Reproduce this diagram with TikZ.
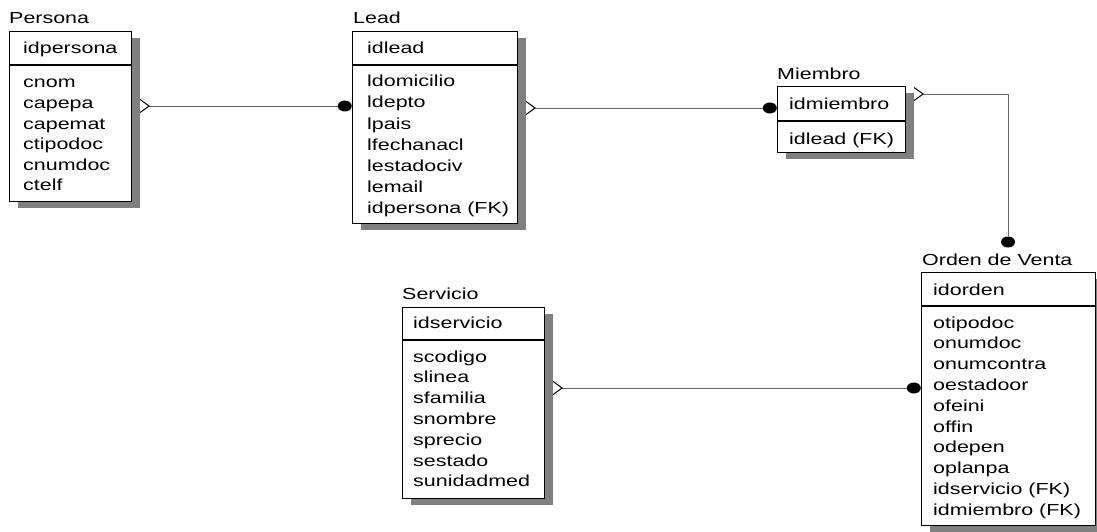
\documentclass[tikz,border=0pt]{standalone}
\usepackage{fontspec}
\setmainfont{Liberation Sans}[FakeStretch=1.34]
\usetikzlibrary{shapes.geometric,shadows,calc}
\newcommand\erfont{\fontsize{16}{19}\selectfont}
\tikzset{
  entity/.style={draw=black, line width=1.1pt, fill=white, anchor=north west,
    inner sep=0pt, general shadow={fill=black!50, shadow xshift=8pt, shadow yshift=-6pt}},
  sepline/.style={draw=black, line width=1.1pt},
  attr/.style={anchor=base west, inner sep=0pt, font=\erfont},
  enttitle/.style={anchor=base west, inner sep=0pt, font=\erfont},
  rel/.style={draw=black!60, line width=0.8pt},
  crow/.style={draw=black, line width=1pt},
  dot/.style={ellipse, fill=black, draw=none, inner sep=0pt,
    minimum width=14pt, minimum height=11pt},
}
% open "many" end drawn at a coordinate, opening towards the table
\newcommand\manyend[1]{\draw[crow] ([yshift=6.5pt]#1) -- ([xshift=9pt]#1) -- ([yshift=-6.5pt]#1);}
\begin{document}
\begin{tikzpicture}[x=1pt, y=-1pt]
\useasboundingbox (0,0) rectangle (1097,532);

% ---------- Persona ----------
\node[enttitle] (persona-t) at (9,24) {Persona};
\node[entity, minimum width=122pt, minimum height=170pt] (persona) at (9,31) {};
\draw[sepline] (persona.west |- 0,65) -- (persona.east |- 0,65);
\node[attr] (persona-k) at (23,54) {idpersona};
\foreach \a [count=\i from 0] in {cnom,capepa,capemat,ctipodoc,cnumdoc,ctelf}
  \node[attr] (persona-\i) at (23,{88+20.5*\i}) {\a};

% ---------- Lead ----------
\node[enttitle] (lead-t) at (353,24) {Lead};
\node[entity, minimum width=165pt, minimum height=192pt] (lead) at (352,31) {};
\draw[sepline] (lead.west |- 0,65) -- (lead.east |- 0,65);
\node[attr] (lead-k) at (367,54) {idlead};
\foreach \a [count=\i from 0] in {ldomicilio,ldepto,lpais,lfechanacl,lestadociv,lemail,idpersona (FK)}
  \node[attr] (lead-\i) at (367,{87+21*\i}) {\a};

% ---------- Miembro ----------
\node[enttitle] (miembro-t) at (777,80) {Miembro};
\node[entity, minimum width=128pt, minimum height=66pt] (miembro) at (777,86) {};
\draw[sepline] (miembro.west |- 0,121) -- (miembro.east |- 0,121);
\node[attr] (miembro-k) at (789,110) {idmiembro};
\node[attr] (miembro-0) at (789,144) {idlead (FK)};

% ---------- Orden de Venta ----------
\node[enttitle] (orden-t) at (922,265) {Orden de Venta};
\node[entity, minimum width=174pt, minimum height=253pt] (orden) at (921,272) {};
\draw[sepline] (orden.west |- 0,306) -- (orden.east |- 0,306);
\node[attr] (orden-k) at (933,295) {idorden};
\foreach \a [count=\i from 0] in {otipodoc,onumdoc,onumcontra,oestadoor,ofeini,offin,odepen,oplanpa,idservicio (FK),idmiembro (FK)}
  \node[attr] (orden-\i) at (933,{328+20.8*\i}) {\a};

% ---------- Servicio ----------
\node[enttitle] (servicio-t) at (402,299) {Servicio};
\node[entity, minimum width=142pt, minimum height=191pt] (servicio) at (402,307) {};
\draw[sepline] (servicio.west |- 0,340) -- (servicio.east |- 0,340);
\node[attr] (servicio-k) at (413,328) {idservicio};
\foreach \a [count=\i from 0] in {scodigo,slinea,sfamilia,snombre,sprecio,sestado,sunidadmed}
  \node[attr] (servicio-\i) at (413,{362+20.8*\i}) {\a};

% ---------- Relationships ----------
% Persona -> Lead
\coordinate (pl-a) at ([xshift=8pt]persona.east |- 0,106);
\coordinate (pl-tip) at ([xshift=9pt]pl-a);
\node[dot, anchor=east] (pl-b) at (lead.west |- 0,106) {};
\draw[rel] (pl-tip) -- (pl-b);
\manyend{pl-a}

% Lead -> Miembro
\coordinate (lm-a) at ([xshift=8pt]lead.east |- 0,108);
\coordinate (lm-tip) at ([xshift=9pt]lm-a);
\node[dot, anchor=east] (lm-b) at (miembro.west |- 0,108) {};
\draw[rel] (lm-tip) -- (lm-b);
\manyend{lm-a}

% Miembro -> Orden de Venta
\coordinate (mo-a) at ([xshift=8pt]miembro.east |- 0,94);
\coordinate (mo-tip) at ([xshift=9pt]mo-a);
\node[dot] (mo-b) at (1008,242) {};
\draw[rel] (mo-tip) -| (mo-b);
\manyend{mo-a}

% Servicio -> Orden de Venta
\coordinate (so-a) at ([xshift=8pt]servicio.east |- 0,388);
\coordinate (so-tip) at ([xshift=9pt]so-a);
\node[dot, anchor=east] (so-b) at (orden.west |- 0,388) {};
\draw[rel] (so-tip) -- (so-b);
\manyend{so-a}

\end{tikzpicture}
\end{document}
